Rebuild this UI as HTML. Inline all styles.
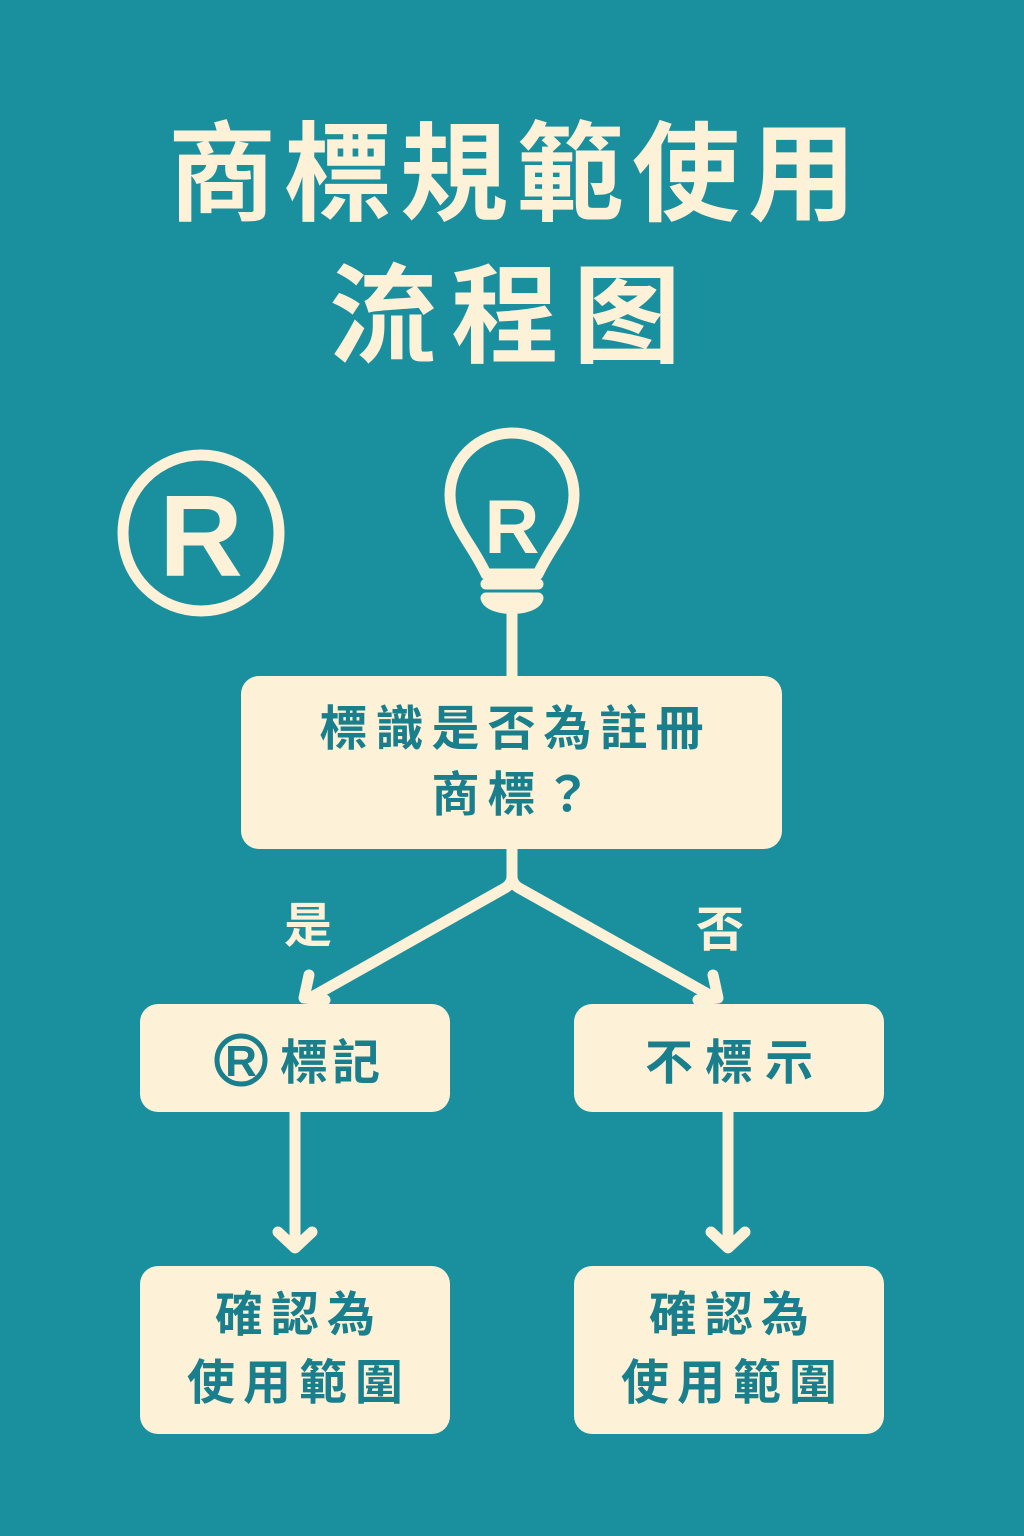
<!DOCTYPE html>
<html><head><meta charset="utf-8">
<style>
html,body{margin:0;padding:0}
body{width:1024px;height:1536px;background:#1a909e;position:relative;overflow:hidden;font-family:"Liberation Sans","Noto Sans CJK TC","Noto Sans CJK SC",sans-serif;}
.t{position:absolute;left:0;width:1024px;text-align:center;color:#fdf1d8;font-weight:700;}
.box{position:absolute;background:#fdf1d8;border-radius:18px;color:#1a7f8c;font-weight:700;display:flex;align-items:center;justify-content:center;text-align:center;}
.lbl{position:absolute;color:#fdf1d8;font-weight:700;font-size:48px;}
</style></head><body>
<div class="t" style="top:110px;font-size:108px;letter-spacing:8px;line-height:130px;padding-left:8px;box-sizing:border-box">商標規範使用</div>
<div class="t" style="top:252px;font-size:108px;letter-spacing:14px;line-height:130px">流程图</div>
<svg width="1024" height="1536" style="position:absolute;left:0;top:0">
 <g fill="none" stroke="#fdf1d8" stroke-width="11" stroke-linecap="round" stroke-linejoin="round">
  <circle cx="201" cy="533" r="78"/>
  <path d="M486 574 C470 540 450 525 450 495 A62 62 0 1 1 574 495 C574 525 554 540 538 574 Z"/>
  <line x1="486" y1="584" x2="538" y2="584"/>
  <path d="M486 598 L538 598 C534 612 490 612 486 598"/>
  <line x1="512" y1="612" x2="512" y2="676"/>
  <path d="M512 848 L512 876 Q512 884 505 888 L310 998"/>
  <path d="M512 876 Q512 884 519 888 L715 998"/>
  <path d="M309 975 L304 998 L325 1000"/>
  <path d="M713 975 L718 998 L698 1000"/>
  <line x1="295" y1="1112" x2="295" y2="1246"/>
  <path d="M278 1232 L295 1248 L312 1232"/>
  <line x1="728" y1="1112" x2="728" y2="1246"/>
  <path d="M711 1232 L728 1248 L745 1232"/>
 </g>
 <text x="201" y="576" text-anchor="middle" font-family="Liberation Sans,sans-serif" font-weight="700" font-size="116" fill="#fdf1d8">R</text>
 <text x="512" y="553" text-anchor="middle" font-family="Liberation Sans,sans-serif" font-weight="700" font-size="76" fill="#fdf1d8">R</text>
</svg>
<div class="box" style="left:241px;top:676px;width:541px;height:173px;font-size:48px;line-height:66px;letter-spacing:8px;padding-left:8px;box-sizing:border-box">標識是否為註冊<br>商標？</div>
<div class="lbl" style="left:284px;top:886px">是</div>
<div class="lbl" style="left:696px;top:890px">否</div>
<div class="box" style="left:140px;top:1004px;width:310px;height:108px"></div>
<svg width="60" height="60" style="position:absolute;left:211px;top:1030px">
 <circle cx="30" cy="30" r="24" fill="none" stroke="#1a7f8c" stroke-width="5"/>
 <text x="30" y="46" text-anchor="middle" font-family="Liberation Sans,sans-serif" font-weight="700" font-size="44" fill="#1a7f8c">R</text>
</svg>
<div style="position:absolute;left:280px;top:1004px;height:108px;display:flex;align-items:center;font-size:48px;font-weight:700;color:#1a7f8c;letter-spacing:4px">標記</div>
<div class="box" style="left:574px;top:1004px;width:310px;height:108px;font-size:48px;letter-spacing:12px;padding-left:12px;box-sizing:border-box">不標示</div>
<div class="box" style="left:140px;top:1266px;width:310px;height:168px;font-size:48px;line-height:68px;letter-spacing:8px;padding-left:8px;box-sizing:border-box">確認為<br>使用範圍</div>
<div class="box" style="left:574px;top:1266px;width:310px;height:168px;font-size:48px;line-height:68px;letter-spacing:8px;padding-left:8px;box-sizing:border-box">確認為<br>使用範圍</div>
</body></html>
